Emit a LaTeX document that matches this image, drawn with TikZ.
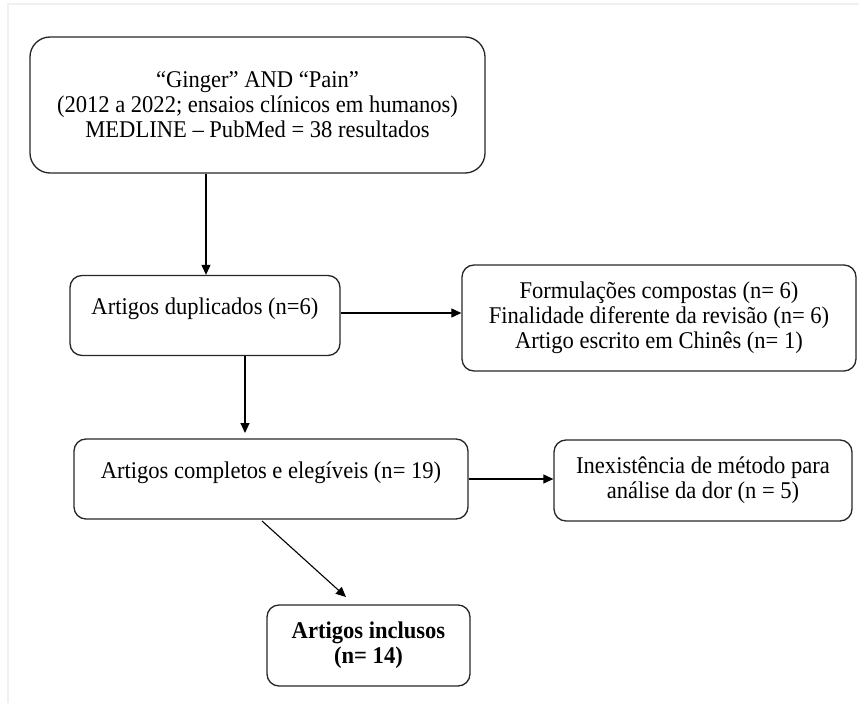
\documentclass[tikz,border=0pt]{standalone}
\usepackage{fontspec}
\setmainfont{Liberation Serif}[FakeStretch=0.94]
\usetikzlibrary{arrows.meta}
\tikzset{
  box/.style={draw=black!85,line width=1.3pt,rounded corners=12pt,align=center,inner sep=0pt},
  onetop/.style={text height=39pt,text depth=41pt},
  arr/.style={line width=1.1pt,-{Triangle[length=10pt,width=9pt]}}
}
\begin{document}
\begin{tikzpicture}[x=1pt,y=-1pt,font=\fontsize{24}{25}\selectfont]
\useasboundingbox (0,0) rectangle (859,703);
% faint frame of the capture
\draw[black!6,line width=2pt] (8,703) -- (8,4) -- (859,4);
% boxes
\node[box,rounded corners=20pt,minimum width=455pt,minimum height=136pt] (search) at (257.5,105)
  {``Ginger'' AND ``Pain''\\(2012 a 2022; ensaios clínicos em humanos)\\MEDLINE -- PubMed = 38 resultados};
\node[box,onetop,minimum width=270pt] (dup) at (205,315.5) {Artigos duplicados (n=6)};
\node[box,minimum width=394pt,minimum height=106pt] (excl1) at (659,318)
  {Formulações compostas (n= 6)\\Finalidade diferente da revisão (n= 6)\\Artigo escrito em Chinês (n= 1)};
\node[box,onetop,minimum width=394pt] (full) at (271,479) {Artigos completos e elegíveis (n= 19)};
\node[box,minimum width=298pt,minimum height=81pt] (excl2) at (703,480.5)
  {Inexistência de método para\\análise da dor (n = 5)};
\node[box,minimum width=203pt,minimum height=81pt,font=\fontsize{24}{25}\selectfont\bfseries] (incl) at (368.5,645.5)
  {Artigos inclusos\\(n= 14)};
% connectors
\draw[arr] (search.south -| 206,0) -- (dup.north -| 206,0);
\draw[arr] (dup.east |- 0,313) -- (excl1.west |- 0,313);
\coordinate (d0) at (245,433);
\draw[arr] (dup.south -| d0) -- (d0);
\draw[arr] (full.east |- 0,479) -- (excl2.west |- 0,479);
\coordinate (d1) at (262,521);
\coordinate (d2) at (346,597);
\draw[arr] (d1) -- (d2);
\end{tikzpicture}
\end{document}
